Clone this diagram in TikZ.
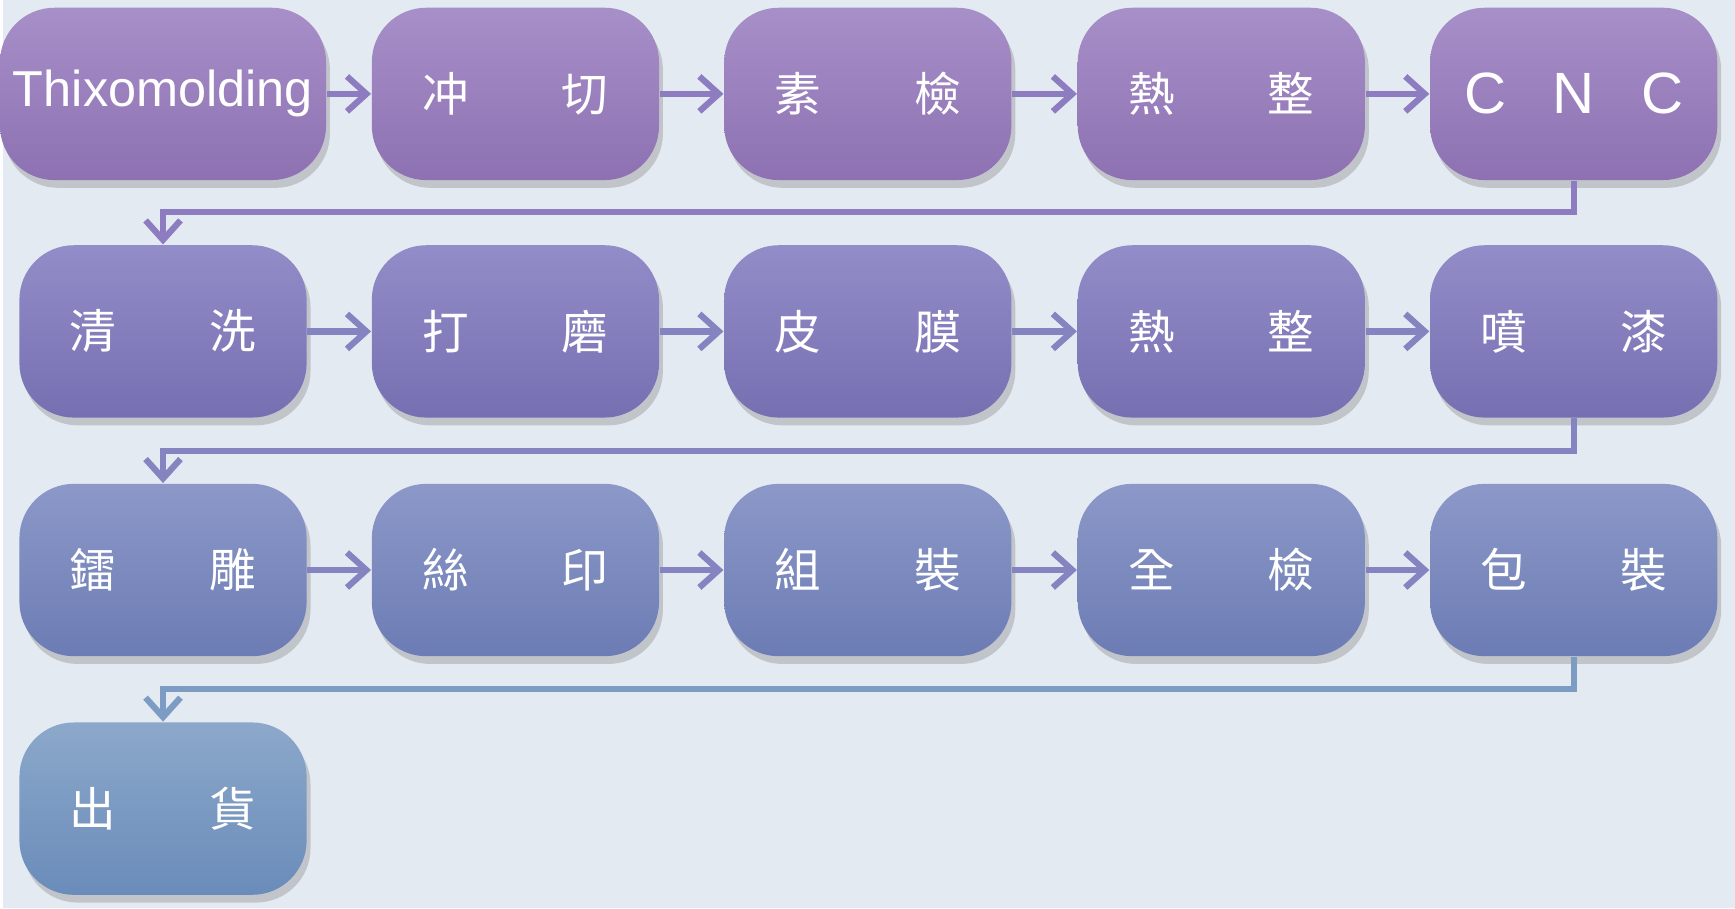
\documentclass[tikz,border=0pt]{standalone}
\usepackage{fontspec}
\setmainfont{Liberation Sans}
\newfontfamily\cjk{Noto Sans CJK TC}
\usetikzlibrary{arrows.meta,shadows}
\definecolor{bgc}{HTML}{E4EAF2}
\definecolor{lnA}{HTML}{8E7CC0}
\definecolor{lnB}{HTML}{8484C0}
\definecolor{lnC}{HTML}{7C9CC4}
\definecolor{topA}{RGB}{167,143,200}
\definecolor{botA}{RGB}{141,113,178}
\definecolor{topB}{RGB}{146,140,200}
\definecolor{botB}{RGB}{118,112,178}
\definecolor{topC}{RGB}{140,152,200}
\definecolor{botC}{RGB}{108,124,180}
\definecolor{topD}{RGB}{140,168,202}
\definecolor{botD}{RGB}{106,140,186}
\begin{document}
\begin{tikzpicture}[x=0.1mm,y=-0.1mm,
  procbox/.style={rounded corners=14pt,minimum width=26mm,minimum height=15.6mm,
    text=white,font=\cjk\fontsize{12}{14}\selectfont,
    drop shadow={shadow xshift=1pt,shadow yshift=-2pt,opacity=0.35}},
  r1/.style={procbox,top color=topA,bottom color=botA},
  r2/.style={procbox,top color=topB,bottom color=botB},
  r3/.style={procbox,top color=topC,bottom color=botC},
  r4/.style={procbox,top color=topD,bottom color=botD},
  link/.style={line width=1.6pt,-{Straight Barb[length=5pt,width=9pt]}}]
\fill[bgc] (0,0) rectangle (1568,822);
% row 1
\node[r1,font=\fontsize{13}{15}\selectfont] (thixo) at (145,85) {Thixomolding};
\node[r1] (punch) at (464,85) {冲\hspace{2em}切};
\node[r1] (rawchk) at (783,85) {素\hspace{2em}檢};
\node[r1] (heat) at (1103,85) {熱\hspace{2em}整};
\node[r1,font=\fontsize{15}{17}\selectfont] (cnc) at (1422,85) {C\hspace{0.8em}N\hspace{0.8em}C};
% row 2
\node[r2] (clean) at (145,300) {清\hspace{2em}洗};
\node[r2] (polish) at (464,300) {打\hspace{2em}磨};
\node[r2] (film) at (783,300) {皮\hspace{2em}膜};
\node[r2] (heatb) at (1103,300) {熱\hspace{2em}整};
\node[r2] (paint) at (1422,300) {噴\hspace{2em}漆};
% row 3
\node[r3] (carve) at (145,516) {鐳\hspace{2em}雕};
\node[r3] (print) at (464,516) {絲\hspace{2em}印};
\node[r3] (assy) at (783,516) {組\hspace{2em}裝};
\node[r3] (fullchk) at (1103,516) {全\hspace{2em}檢};
\node[r3] (pack) at (1422,516) {包\hspace{2em}裝};
% row 4
\node[r4] (ship) at (145,732) {出\hspace{2em}貨};
% connectors
\draw[link,lnA] (thixo) -- (punch);
\draw[link,lnA] (punch) -- (rawchk);
\draw[link,lnA] (rawchk) -- (heat);
\draw[link,lnA] (heat) -- (cnc);
\draw[link,lnA] (cnc.south) |- (145,192) -- (clean.north);
\draw[link,lnB] (clean) -- (polish);
\draw[link,lnB] (polish) -- (film);
\draw[link,lnB] (film) -- (heatb);
\draw[link,lnB] (heatb) -- (paint);
\draw[link,lnB] (paint.south) |- (145,408) -- (carve.north);
\draw[link,lnB] (carve) -- (print);
\draw[link,lnB] (print) -- (assy);
\draw[link,lnB] (assy) -- (fullchk);
\draw[link,lnB] (fullchk) -- (pack);
\draw[link,lnC] (pack.south) |- (145,624) -- (ship.north);
\end{tikzpicture}
\end{document}
